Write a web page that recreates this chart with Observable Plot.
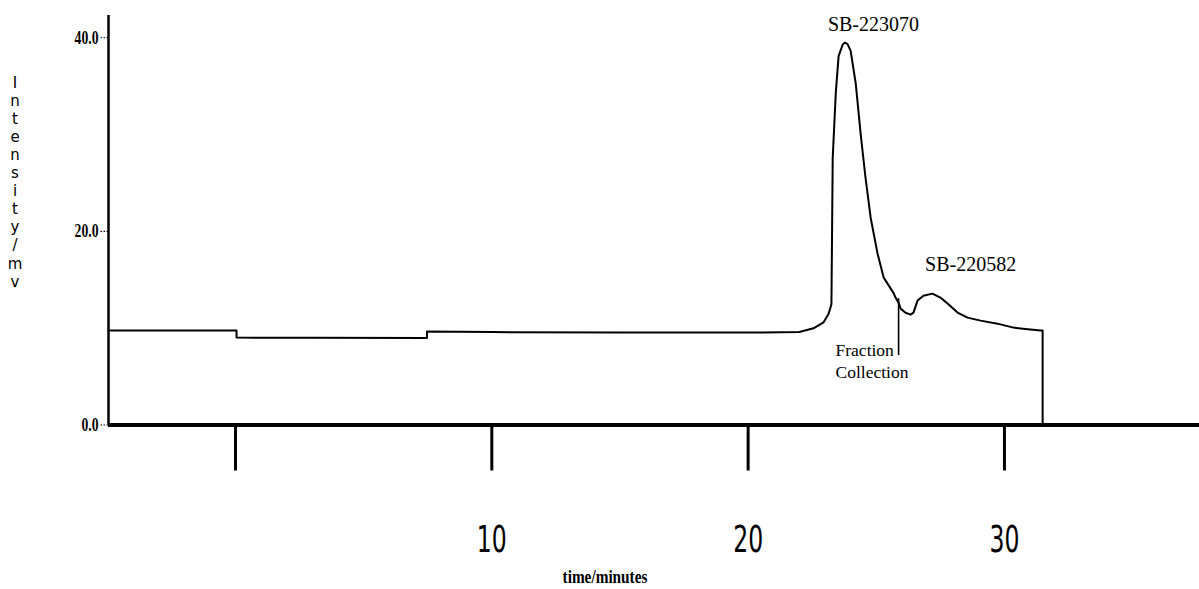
<!DOCTYPE html>
<html><head><meta charset="utf-8">
<script src="https://cdn.jsdelivr.net/npm/d3@7"></script>
<script src="https://cdn.jsdelivr.net/npm/@observablehq/plot@0.6"></script>
<style>html,body{margin:0;padding:0;background:#fff;} #chart{width:1199px;height:589px;overflow:hidden}</style>
</head><body><div id="chart"></div>
<script>
// chromatogram trace: time (minutes) and intensity (mV)
const timeMin = [-4.955, 0.04, 0.04, 3.0, 7.47, 7.47, 10.0, 15.0, 20.0, 22.0, 22.55, 22.94, 23.14, 23.23, 23.25,
  23.3, 23.42, 23.53, 23.69, 23.78, 23.88, 24.0, 24.2, 24.39, 24.58, 24.78, 25.05, 25.29, 25.44, 25.68, 25.75, 25.87,
  25.95, 26.14, 26.34, 26.45, 26.61, 26.84, 27.19, 27.5, 27.78, 28.17, 28.56, 29.07, 29.73, 30.35, 31.01, 31.41, 31.49, 31.49];
const intensityMv = [9.75, 9.75, 9.03, 9.0, 8.98, 9.65, 9.6, 9.55, 9.55, 9.6, 9.99, 10.6, 11.5, 12.3, 12.5,
  27.6, 34.3, 38.1, 39.3, 39.5, 39.35, 38.65, 35.24, 30.08, 25.54, 21.41, 17.7, 15.22, 14.6, 13.6, 13.16, 12.64,
  12.02, 11.6, 11.4, 11.61, 12.85, 13.36, 13.57, 13.16, 12.54, 11.61, 11.09, 10.78, 10.47, 10.06, 9.86, 9.75, 9.75, 0];

const xTicks = [0, 10, 20, 30];
const xTickLabels = ["", "10", "20", "30"];
const yTicks = [0, 20, 40];
const yTickLabels = ["0.0", "20.0", "40.0"];
const xDomain = [-4.955, 37.61];
const yDomain = [0, 42.3];

const yLabelText = "Intensity/mv";
const xLabelText = "time/minutes";

const peakNames = ["SB-223070", "SB-220582"];
const peakTimes = [24.89, 28.68];
const peakLevels = [40.7, 15.9];

const fractionText = "Fraction\nCollection";
const fractionTime = 25.87;
const fractionLow = 7.17;
const fractionHigh = 13.05;
const fractionTextTime = 23.41;
const fractionTextLevel = 8.72;

const trace = timeMin.map((t, i) => ({t, v: intensityMv[i]}));
const peaks = peakNames.map((name, i) => ({name, t: peakTimes[i], v: peakLevels[i]}));

const plot = Plot.plot({
  width: 1199,
  height: 589,
  marginLeft: 108,
  marginRight: 0,
  marginTop: 15,
  marginBottom: 164.5,
  style: {background: "#fff", color: "#000", overflow: "visible"},
  x: {domain: xDomain},
  y: {domain: yDomain},
  marks: [
    Plot.ruleX([xDomain[0]], {y1: yDomain[0], y2: yDomain[1], stroke: "#000", strokeWidth: 2.5}),
    Plot.ruleY([0], {stroke: "#000", strokeWidth: 4}),
    Plot.axisX({ticks: xTicks, tickSize: 46, tickPadding: 54, strokeWidth: 3,
      tickFormat: (d) => xTickLabels[xTicks.indexOf(d)],
      fontSize: 38, fontFamily: "DejaVu Sans", label: null}),
    Plot.axisY({ticks: yTicks, tickSize: 8, tickPadding: 2, strokeWidth: 1.2, strokeDasharray: "1.5,1.5",
      tickFormat: (d) => yTickLabels[yTicks.indexOf(d)],
      fontSize: 19, fontWeight: "bold", fontFamily: "Liberation Serif", label: null}),
    Plot.line(trace, {x: "t", y: "v", stroke: "#000", strokeWidth: 2, curve: "linear"}),
    Plot.ruleX([fractionTime], {y1: fractionLow, y2: fractionHigh, stroke: "#000", strokeWidth: 1.6}),
    Plot.text(peaks, {x: "t", y: "v", text: "name", fontSize: 20, fontFamily: "Liberation Serif", lineAnchor: "bottom", fill: "#000"}),
    Plot.text([fractionText], {x: fractionTextTime, y: fractionTextLevel, text: (d) => d, textAnchor: "start", lineAnchor: "top",
      fontSize: 17.5, lineHeight: 1.25, fontFamily: "Liberation Serif", fill: "#000"})
  ]
});

const svg = d3.select(plot);
svg.selectAll('g[aria-label="x-axis tick label"] text').each(function() {
  const tr = this.getAttribute("transform") || "";
  this.setAttribute("transform", tr + " scale(0.62,1)");
});
svg.selectAll('g[aria-label="y-axis tick label"] text').each(function() {
  const tr = this.getAttribute("transform") || "";
  this.setAttribute("transform", tr + " scale(0.72,1)");
});

// vertical stacked y label
const yl = svg.append("g").attr("font-family", "DejaVu Sans").attr("font-size", 15).attr("text-anchor", "middle").attr("fill", "#000");
Array.from(yLabelText).forEach((ch, i) => {
  yl.append("text").attr("x", 15).attr("y", 87.5 + i * 18.1).text(ch);
});
svg.append("text").attr("x", 605).attr("y", 583).attr("text-anchor", "middle")
  .attr("font-family", "Liberation Serif").attr("font-weight", "bold").attr("font-size", 18)
  .attr("transform", "translate(605,583) scale(0.85,1) translate(-605,-583)")
  .attr("fill", "#000").text(xLabelText);

document.getElementById("chart").appendChild(plot);
</script></body></html>
